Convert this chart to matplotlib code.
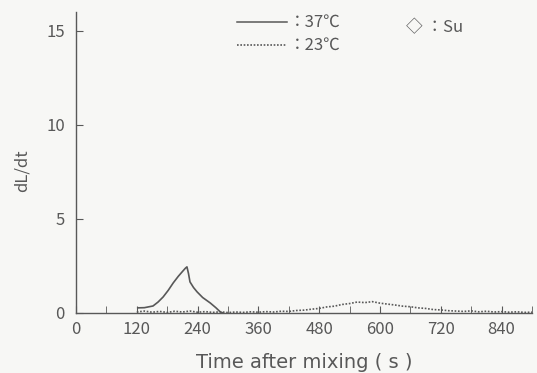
import matplotlib.pyplot as plt

plt.rcParams['font.family'] = ['Noto Sans CJK JP', 'DejaVu Sans']

# 37 C run: single sharp peak
t37 = [122, 135, 152, 162, 172, 182, 192, 202, 211, 216, 219, 222, 225, 232, 239, 250, 265, 276, 285, 290]
v37 = [0.27, 0.28, 0.37, 0.58, 0.85, 1.20, 1.60, 1.95, 2.23, 2.38, 2.45, 2.10, 1.65, 1.35, 1.12, 0.82, 0.53, 0.28, 0.05, 0.0]

# 23 C run: broad low hump, noisy trace
t23 = [120, 135, 150, 165, 180, 195, 210, 225, 240, 255, 270, 285, 300, 315, 330,
       345, 360, 375, 390, 405, 420, 435, 450, 465, 480, 495, 510, 525, 540, 555,
       570, 585, 600, 615, 630, 645, 660, 675, 690, 705, 720, 735, 750, 765, 780,
       795, 810, 825, 840, 855, 870, 885, 900]
v23 = [0.05, 0.10, 0.04, 0.08, 0.03, 0.09, 0.05, 0.10, 0.04, 0.07, 0.03, 0.06, 0.02, 0.05, 0.03,
       0.06, 0.04, 0.07, 0.05, 0.09, 0.08, 0.13, 0.15, 0.20, 0.24, 0.32, 0.36, 0.45, 0.50, 0.58,
       0.55, 0.60, 0.52, 0.47, 0.42, 0.36, 0.33, 0.27, 0.24, 0.18, 0.16, 0.12, 0.10, 0.08, 0.11,
       0.06, 0.09, 0.05, 0.07, 0.04, 0.06, 0.03, 0.04]

xticks = [0, 120, 240, 360, 480, 600, 720, 840]
yticks = [0, 5, 10, 15]

ink = '#585858'
bg = '#f7f7f5'

fig = plt.figure(figsize=(5.37, 3.73), dpi=100, facecolor=bg)
ax = fig.add_axes([0.1415, 0.161, 0.8492, 0.807])
ax.set_facecolor(bg)

ax.plot(t37, v37, color=ink, lw=1.2)
ax.plot(t23, v23, color=ink, lw=1.2, ls=(0, (1, 1)))

ax.set_xlim(0, 900)
ax.set_ylim(0, 16)
for s in ['top', 'right']:
    ax.spines[s].set_visible(False)
for s in ['left', 'bottom']:
    ax.spines[s].set_color(ink)
    ax.spines[s].set_linewidth(1.0)

ax.set_xticks(range(0, 901, 60), minor=True)
ax.set_xticks(xticks)
ax.set_yticks(yticks)
ax.tick_params(which='both', direction='in', length=5, color=ink, labelcolor=ink, labelsize=12)
ax.tick_params(axis='x', pad=6)
ax.tick_params(axis='y', pad=8)

# axis titles placed in figure coordinates
fig.text(304 / 537, 1 - 362 / 373, 'Time after mixing ( s )', color=ink, fontsize=14,
         family='DejaVu Sans', ha='center', va='center')
fig.text(22 / 537, 1 - 171 / 373, 'dL/dt', color=ink, fontsize=12, rotation=90,
         ha='center', va='center')

# key
fig.add_artist(plt.Line2D([237 / 537, 287 / 537], [1 - 22 / 373, 1 - 22 / 373], color=ink, lw=1.1))
fig.add_artist(plt.Line2D([237 / 537, 287 / 537], [1 - 45 / 373, 1 - 45 / 373], color=ink, lw=1.2, ls=(0, (1, 1))))
fig.text(289 / 537, 1 - 22 / 373, '：37℃', color=ink, fontsize=12, va='center')
fig.text(289 / 537, 1 - 45 / 373, '：23℃', color=ink, fontsize=12, va='center')
fig.text(406 / 537, 1 - 28 / 373, '◇ ：Su', color=ink, fontsize=12, va='center')

fig.savefig('out.png', dpi=100, facecolor=bg)
